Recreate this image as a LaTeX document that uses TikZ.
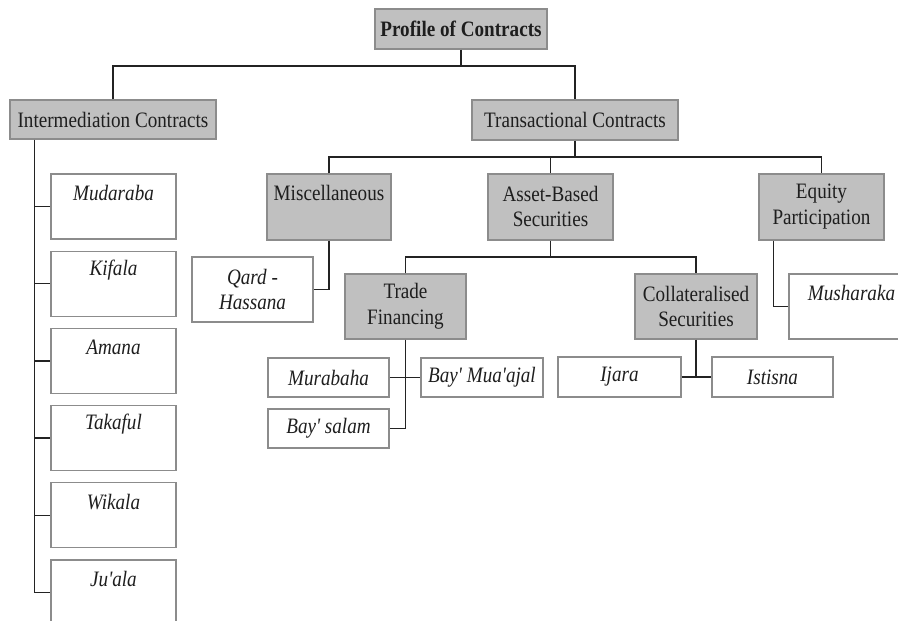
\documentclass[tikz,border=0pt]{standalone}
\usepackage{fontspec}
\setmainfont{Liberation Serif}[FakeStretch=0.87, Ligatures=TeXOff]
\usetikzlibrary{calc}
\definecolor{boxfill}{RGB}{192,192,192}
\definecolor{boxline}{RGB}{140,140,140}
\definecolor{connc}{RGB}{35,35,35}
\definecolor{txtc}{RGB}{30,30,30}
\begin{document}
\begin{tikzpicture}[x=1pt,y=-1pt,
  gbox/.style={draw=boxline, fill=boxfill, line width=1.2pt, inner sep=0pt, font=\fontsize{22}{25.5}\selectfont, text=txtc, align=center},
  wbox/.style={draw=boxline, fill=white, line width=1.2pt, inner sep=0pt, font=\fontsize{22}{25.5}\selectfont\itshape, text=txtc, align=center},
  sz/.style 2 args={minimum width=#1pt, minimum height=#2pt},
  lbl/.style={font=\fontsize{22}{25.5}\selectfont, text=txtc, align=center, inner sep=0pt},
  ilbl/.style={lbl, font=\fontsize{22}{25.5}\selectfont\itshape},
  conn/.style={draw=connc, line width=1.4pt}]
\useasboundingbox (0,0) rectangle (898,621);

% top level
\node[gbox, sz={172}{40}, font=\fontsize{22}{25.5}\selectfont\bfseries] (profile) at (461,29) {Profile of Contracts};
\node[gbox, sz={206}{39}] (inter) at (113,119.5) {Intermediation Contracts};
\node[gbox, sz={206}{40}] (trans) at (575,120) {Transactional Contracts};

% second level
\node[gbox, sz={124}{66}] (misc) at (329,207) {};
\node[lbl] at ($(misc.north)+(0,20)$) {Miscellaneous};
\node[gbox, sz={125}{66}] (asset) at (550.5,207) {};
\node[lbl] at ($(asset.north)+(0,33)$) {Asset-Based\\Securities};
\node[gbox, sz={125}{66}] (equity) at (821.5,207) {};
\node[lbl] at ($(equity.north)+(0,33)$) {Equity\\Participation};

% third level
\node[wbox, sz={121}{65}] (qard) at (252.5,289.5) {};
\node[ilbl] at ($(qard.north)+(0,33)$) {Qard -\\Hassana};
\node[gbox, sz={121}{65}] (trade) at (405.5,306.5) {};
\node[lbl] at ($(trade.north)+(0,33)$) {Trade\\Financing};
\node[gbox, sz={122}{65}] (coll) at (696,306.5) {};
\node[lbl] at ($(coll.north)+(0,33)$) {Collateralised\\Securities};
\node[wbox, sz={125}{65}] (mush) at (851.5,306.5) {};
\node[ilbl] at ($(mush.north)+(0,20)$) {Musharaka};

% fourth level
\node[wbox, sz={121}{39}] (murabaha) at (328.5,377.5) {Murabaha};
\node[wbox, sz={122}{39}] (muaajal) at (482,377.5) {Bay' Mua'ajal};
\node[wbox, sz={121}{39}] (salam) at (328.5,428.5) {Bay' salam};
\node[wbox, sz={123}{40}] (ijara) at (619.5,377) {Ijara};
\node[wbox, sz={121}{40}] (istisna) at (772.5,377) {Istisna};

% left column
\foreach \name/\txt [count=\i from 0] in {L1/Mudaraba, L2/Kifala, L3/Amana, L4/Takaful, L5/Wikala, L6/Ju'ala} {
  \node[wbox, sz={125}{65}] (\name) at (113.5,{206.5+77.2*\i}) {};
  \node[ilbl] at ($(\name.north)+(0,19.5)$) {\txt};
}

% connectors
\coordinate (bus1) at (461,66);
\draw[conn] (profile.south) -- (bus1);
\draw[conn] (inter.north) |- (bus1) -| (trans.north);

\coordinate (bus2) at (575,157);
\draw[conn] (trans.south) -- (bus2);
\draw[conn] (misc.north) |- (bus2) -| (equity.north);
\draw[conn] (asset.north) -- (asset.north |- bus2);

\draw[conn] (misc.south) |- (qard.east);

\coordinate (bus3) at (550.5,257);
\draw[conn] (asset.south) -- (bus3);
\draw[conn] (trade.north) |- (bus3) -| (coll.north);

\coordinate (eqdrop) at ($(equity.south west)+(15,0)$);
\draw[conn] (eqdrop) |- (mush.west);

\draw[conn] (trade.south) |- (salam.east);
\draw[conn] (murabaha.east) -- (muaajal.west);

\draw[conn] (coll.south) -- (coll.south |- ijara.east);
\draw[conn] (ijara.east) -- (istisna.west);

\coordinate (ldrop) at ($(inter.south west)+(25,0)$);
\draw[conn] (ldrop) -- (ldrop |- L6.west);
\foreach \name in {L1,L2,L3,L4,L5,L6} {
  \draw[conn] (ldrop |- \name.west) -- (\name.west);
}
\end{tikzpicture}
\end{document}
